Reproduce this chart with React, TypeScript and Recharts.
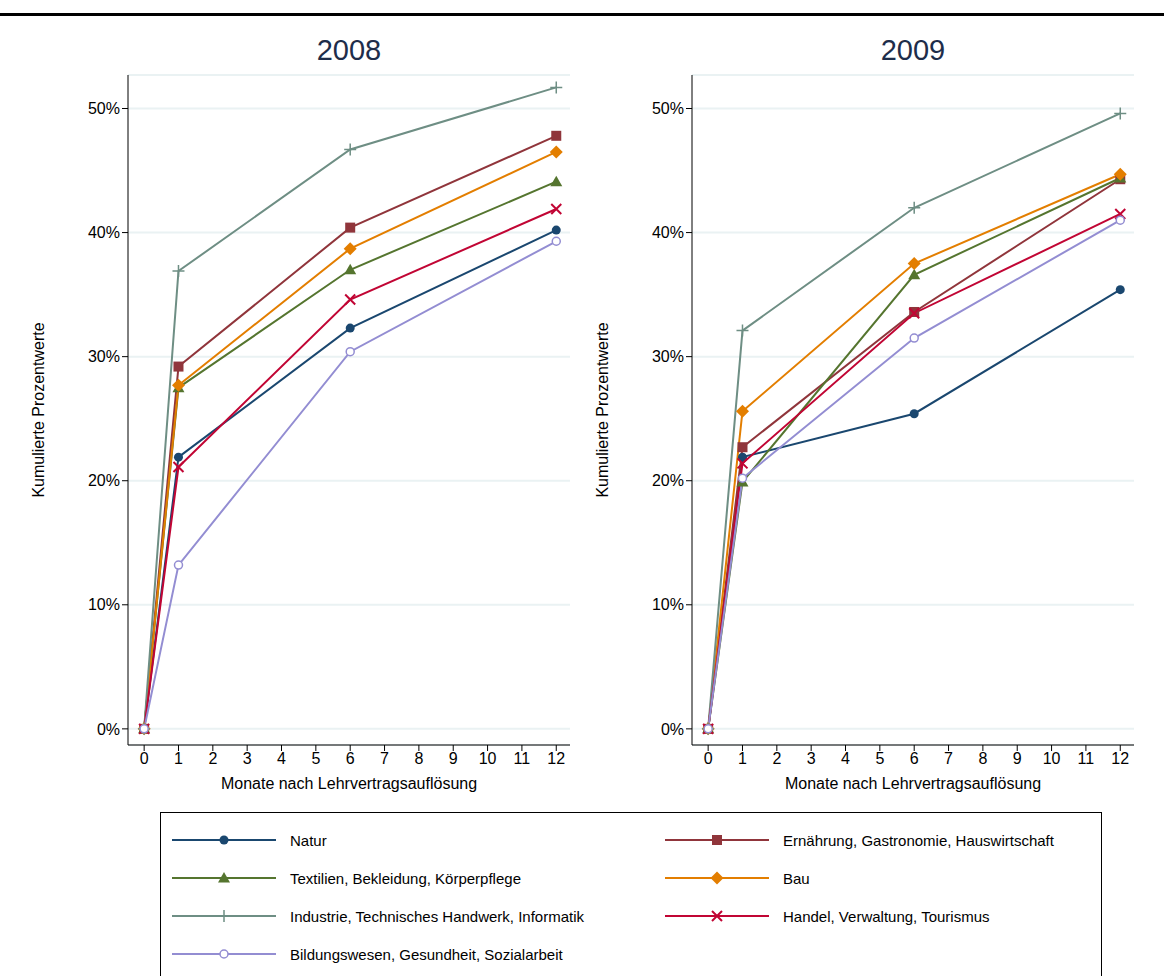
import { CartesianGrid, Line, LineChart, XAxis, YAxis } from 'recharts';

const months = [0, 1, 6, 12];
const xTicks = [0, 1, 2, 3, 4, 5, 6, 7, 8, 9, 10, 11, 12];
const yTicks = [0, 10, 20, 30, 40, 50];

const seriesNames = [
  'Natur',
  'Ernährung, Gastronomie, Hauswirtschaft',
  'Textilien, Bekleidung, Körperpflege',
  'Bau',
  'Industrie, Technisches Handwerk, Informatik',
  'Handel, Verwaltung, Tourismus',
  'Bildungswesen, Gesundheit, Sozialarbeit',
];
const seriesColors = ['#1a476f', '#90353b', '#55752f', '#e37e00', '#6e8e84', '#c10534', '#938dd2'];
const seriesShapes = ['circle', 'square', 'triangle', 'diamond', 'plus', 'cross', 'hollow'];

const values2008 = [
  [0, 21.9, 32.3, 40.2],
  [0, 29.2, 40.4, 47.8],
  [0, 27.5, 37.0, 44.1],
  [0, 27.7, 38.7, 46.5],
  [0, 36.9, 46.7, 51.7],
  [0, 21.1, 34.6, 41.9],
  [0, 13.2, 30.4, 39.3],
];
const values2009 = [
  [0, 21.9, 25.4, 35.4],
  [0, 22.7, 33.6, 44.3],
  [0, 19.9, 36.6, 44.4],
  [0, 25.6, 37.5, 44.7],
  [0, 32.1, 42.0, 49.6],
  [0, 21.4, 33.5, 41.5],
  [0, 20.2, 31.5, 41.0],
];

const FONT = '"Liberation Sans", Arial, sans-serif';

function Marker({ cx, cy, shape, color }: { cx: number; cy: number; shape: string; color: string }) {
  if (cx == null || cy == null) return null;
  switch (shape) {
    case 'circle':
      return <circle cx={cx} cy={cy} r={4.5} fill={color} />;
    case 'square':
      return <rect x={cx - 5} y={cy - 5} width={10} height={10} fill={color} />;
    case 'triangle':
      return <path d={`M${cx},${cy - 6} L${cx + 6},${cy + 4.5} L${cx - 6},${cy + 4.5} Z`} fill={color} />;
    case 'diamond':
      return <path d={`M${cx},${cy - 6.5} L${cx + 6.5},${cy} L${cx},${cy + 6.5} L${cx - 6.5},${cy} Z`} fill={color} />;
    case 'plus':
      return <path d={`M${cx - 6},${cy} H${cx + 6} M${cx},${cy - 6} V${cy + 6}`} stroke={color} strokeWidth={1.5} />;
    case 'cross':
      return <path d={`M${cx - 5},${cy - 5} L${cx + 5},${cy + 5} M${cx - 5},${cy + 5} L${cx + 5},${cy - 5}`} stroke={color} strokeWidth={2} />;
    default:
      return <circle cx={cx} cy={cy} r={4} fill="#fff" stroke={color} strokeWidth={1.5} />;
  }
}

function Panel({ title, values, left }: { title: string; values: number[][]; left: number }) {
  const data = months.map((m, i) => {
    const row: Record<string, number> = { m };
    values.forEach((s, k) => (row[`s${k}`] = s[i]));
    return row;
  });
  return (
    <div style={{ position: 'absolute', left, top: 0 }}>
      <div style={{ position: 'absolute', left: 128, width: 442, top: 34, textAlign: 'center', fontSize: 29, color: '#1e2d4a', fontFamily: FONT }}>
        {title}
      </div>
      <div style={{ position: 'absolute', left: 39, top: 410, transform: 'translate(-50%,-50%) rotate(-90deg)', whiteSpace: 'nowrap', fontSize: 16, fontFamily: FONT }}>
        Kumulierte Prozentwerte
      </div>
      <div style={{ position: 'absolute', left: 128, width: 442, top: 775, textAlign: 'center', fontSize: 16, fontFamily: FONT }}>
        Monate nach Lehrvertragsauflösung
      </div>
      <LineChart width={600} height={800} data={data} margin={{ top: 75, right: 30, left: 68, bottom: 25 }}>
        <CartesianGrid vertical={false} stroke="#eaf2f3" strokeWidth={2} />
        <XAxis
          dataKey="m"
          type="number"
          domain={[-0.47, 12.4]}
          ticks={xTicks}
          stroke="#000"
          tick={{ fontSize: 16, fill: '#000', fontFamily: FONT }}
          tickSize={6}
          height={30}
        />
        <YAxis
          type="number"
          domain={[-1.3, 52.7]}
          ticks={yTicks}
          width={60}
          stroke="#000"
          tickFormatter={(v: number) => `${v}%`}
          tick={{ fontSize: 16, fill: '#000', fontFamily: FONT }}
          tickSize={6}
        />
        {seriesNames.map((n, k) => (
          <Line
            key={n}
            dataKey={`s${k}`}
            type="linear"
            stroke={seriesColors[k]}
            strokeWidth={2}
            isAnimationActive={false}
            dot={(p: any) => <Marker key={p.index} cx={p.cx} cy={p.cy} shape={seriesShapes[k]} color={seriesColors[k]} />}
          />
        ))}
      </LineChart>
    </div>
  );
}

function LegendItem({ k, x, y }: { k: number; x: number; y: number }) {
  return (
    <div style={{ position: 'absolute', left: x, top: y - 10, height: 20, display: 'flex', alignItems: 'center' }}>
      <svg width={106} height={20}>
        <line x1={0} y1={10} x2={104} y2={10} stroke={seriesColors[k]} strokeWidth={2} />
        <Marker cx={52} cy={10} shape={seriesShapes[k]} color={seriesColors[k]} />
      </svg>
      <span style={{ marginLeft: 12, fontSize: 15, fontFamily: FONT }}>{seriesNames[k]}</span>
    </div>
  );
}

export default function App() {
  const rows = [840, 878, 916, 954];
  return (
    <div style={{ position: 'absolute', left: 0, top: 0, width: 1164, height: 976, background: '#fff', overflow: 'hidden' }}>
      <div style={{ position: 'absolute', left: 0, top: 13, width: 1164, height: 3, background: '#000' }} />
      <Panel title="2008" values={values2008} left={0} />
      <Panel title="2009" values={values2009} left={564} />
      <div style={{ position: 'absolute', left: 160, top: 812, width: 940, height: 200, border: '1px solid #000' }} />
      {seriesNames.map((_, k) => (
        <LegendItem key={k} k={k} x={k % 2 === 0 ? 172 : 665} y={rows[Math.floor(k / 2)]} />
      ))}
    </div>
  );
}
